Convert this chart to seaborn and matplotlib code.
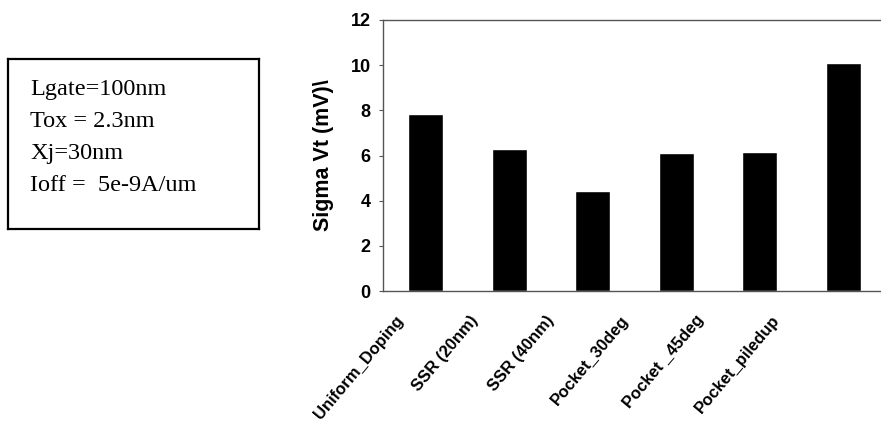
import pandas as pd
import matplotlib
matplotlib.use("Agg")
import matplotlib.pyplot as plt
import seaborn as sns

# values
structures = ["Uniform_Doping", "SSR (20nm)", "SSR (40nm)",
              "Pocket_30deg", "Pocket _45deg", "Pocket_piledup"]
sigma_vt = [7.85, 6.3, 4.43, 6.12, 6.15, 10.1]
yticks = [0, 2, 4, 6, 8, 10, 12]
info_lines = ["Lgate=100nm", "Tox = 2.3nm", "Xj=30nm", "Ioff =  5e-9A/um"]

df = pd.DataFrame({"structure": structures, "sigma": sigma_vt})

sns.set_style("white")
plt.rcParams["font.family"] = ["Liberation Sans", "DejaVu Sans"]
plt.rcParams["text.color"] = "black"

W, H = 881, 434
fig = plt.figure(figsize=(W / 100, H / 100), dpi=100)
ax = fig.add_axes([383 / W, 1 - 291 / H, (W - 383) / W, (291 - 20) / H])

sns.barplot(x="structure", y="sigma", data=df, color="black",
            width=0.42, saturation=1, ax=ax)
ax.set_xlim(-0.51, 5.45)
ax.set_ylim(0, 12)
ax.set_yticks(yticks)
ax.set_yticklabels([str(t) for t in yticks], fontsize=13, fontweight="bold",
                   color="black")
# in the scan the category labels sit a bit tighter than the bars
label_pos = [-0.3 + 0.9 * i for i in range(len(structures))]
ax.set_xticks(label_pos)
ax.set_xticklabels(structures, rotation=50, ha="right", va="center",
                   rotation_mode="anchor", fontsize=12, fontweight="bold",
                   color="black")
ax.set_xlabel("")
ax.set_ylabel("Sigma Vt (mV)\\", fontsize=15.5, fontweight="bold",
              color="black", labelpad=12)
ax.tick_params(axis="y", length=3, width=0.8, color="#555555", pad=6, left=True)
ax.tick_params(axis="x", length=0, pad=19)
for s in ["left", "top", "bottom"]:
    ax.spines[s].set_color("#555555")
    ax.spines[s].set_linewidth(1.0)
ax.spines["right"].set_visible(False)

# parameter box
box = fig.add_axes([8 / W, 1 - 229 / H, (259 - 8) / W, (229 - 59) / H])
box.set_xticks([])
box.set_yticks([])
for s in box.spines.values():
    s.set_color("black")
    s.set_linewidth(1.6)
for i, line in enumerate(info_lines):
    box.text(22 / 251, 1 - (30 + 32.3 * i) / 170, line, transform=box.transAxes,
             fontsize=17.5, family=["Liberation Serif", "DejaVu Serif"],
             va="center", ha="left", color="black")

fig.savefig("out.png", dpi=100)
